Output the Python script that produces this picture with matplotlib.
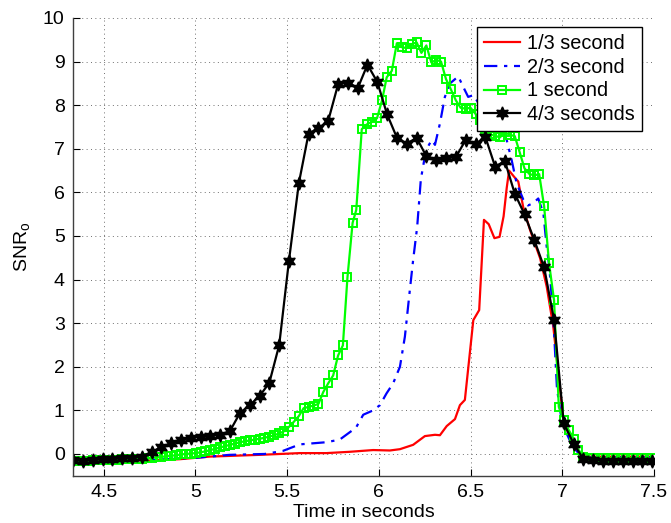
import matplotlib
matplotlib.use("Agg")
import matplotlib.pyplot as plt

plt.rcParams["font.family"] = ["Liberation Sans", "DejaVu Sans"]
plt.rcParams["mathtext.fontset"] = "custom"
plt.rcParams["mathtext.rm"] = "Liberation Sans"
plt.rcParams["mathtext.it"] = "Liberation Sans:italic"

# 1/3 second window (plain red line)
red_t = [4.333, 4.751, 4.915, 5.078, 5.351, 5.569, 5.715, 5.842, 5.969, 6.060,
         6.115, 6.187, 6.251, 6.306, 6.333, 6.370, 6.415, 6.442, 6.469, 6.515,
         6.547, 6.573, 6.599, 6.630, 6.658, 6.680, 6.697, 6.710, 6.737, 6.760,
         6.788, 6.824, 6.879, 6.915, 6.951, 7.004, 7.053, 7.108, 7.490]
red_v = [-0.15, -0.15, -0.12, -0.06, -0.02, 0.02, 0.02, 0.05, 0.09, 0.08,
         0.11, 0.21, 0.41, 0.44, 0.43, 0.64, 0.80, 1.12, 1.24, 3.07,
         3.30, 5.37, 5.27, 4.95, 4.98, 5.45, 6.10, 6.50, 6.36, 6.25,
         5.64, 5.14, 4.49, 3.84, 2.92, 0.86, 0.20, -0.06, -0.06]

# 2/3 second window (blue dash-dot)
blue_t = [4.333, 4.751, 5.024, 5.187, 5.378, 5.477, 5.569, 5.715, 5.787, 5.842,
          5.875, 5.915, 5.969, 6.006, 6.042, 6.078, 6.115, 6.142, 6.169, 6.187,
          6.209, 6.229, 6.257, 6.288, 6.306, 6.333, 6.360, 6.388, 6.433, 6.460,
          6.487, 6.515, 6.551, 6.617, 6.678, 6.697, 6.724, 6.751, 6.788, 6.813,
          6.840, 6.869, 6.897, 6.915, 6.929, 6.950, 6.971, 6.999, 7.053, 7.108,
          7.490]
blue_v = [-0.15, -0.14, -0.08, -0.02, 0.00, 0.07, 0.22, 0.27, 0.33, 0.50,
          0.60, 0.90, 1.00, 1.12, 1.39, 1.62, 2.00, 2.69, 3.76, 4.45,
          5.21, 6.30, 6.97, 7.20, 7.09, 7.58, 8.19, 8.50, 8.66, 8.42,
          8.19, 8.23, 8.00, 7.70, 7.38, 7.20, 6.74, 6.21, 5.83, 5.70,
          5.75, 5.86, 5.52, 4.75, 4.30, 3.20, 1.50, 0.70, 0.20, -0.08,
          -0.08]

# 1 second window (green, square markers)
green_t = [4.333, 4.360, 4.387, 4.413, 4.440, 4.467, 4.494, 4.520, 4.547, 4.574,
           4.601, 4.627, 4.654, 4.681, 4.708, 4.734, 4.761, 4.788, 4.815, 4.841,
           4.868, 4.895, 4.922, 4.948, 4.975, 5.002, 5.029, 5.055, 5.082, 5.109,
           5.136, 5.162, 5.189, 5.216, 5.243, 5.269, 5.296, 5.323, 5.350, 5.376,
           5.403, 5.430, 5.457, 5.483, 5.510, 5.537, 5.564, 5.590, 5.617, 5.644,
           5.671, 5.697, 5.724, 5.751, 5.778, 5.804, 5.829, 5.857, 5.877, 5.907,
           5.935, 5.962, 5.990, 6.018, 6.043, 6.071, 6.098, 6.125, 6.152, 6.179,
           6.206, 6.232, 6.259, 6.286, 6.313, 6.339, 6.366, 6.393, 6.420, 6.446,
           6.473, 6.500, 6.527, 6.553, 6.580, 6.607, 6.634, 6.660, 6.687, 6.714,
           6.741, 6.767, 6.794, 6.821, 6.848, 6.874, 6.901, 6.928, 6.955, 6.981,
           7.008, 7.035, 7.062, 7.088, 7.115, 7.142, 7.169, 7.195, 7.222, 7.249,
           7.276, 7.302, 7.329, 7.356, 7.383, 7.409, 7.436, 7.463, 7.490]
green_v = [-0.15, -0.16, -0.15, -0.15, -0.14, -0.14, -0.14, -0.13, -0.13, -0.13,
           -0.12, -0.12, -0.12, -0.11, -0.11, -0.10, -0.09, -0.08, -0.07, -0.05,
           -0.04, -0.03, -0.01, 0.00, 0.01, 0.02, 0.04, 0.06, 0.09, 0.12,
           0.15, 0.18, 0.21, 0.24, 0.27, 0.29, 0.31, 0.33, 0.35, 0.37,
           0.40, 0.43, 0.47, 0.52, 0.62, 0.74, 0.87, 1.05, 1.08, 1.11,
           1.15, 1.42, 1.62, 1.80, 2.26, 2.49, 4.05, 5.30, 5.60, 7.45,
           7.56, 7.62, 7.70, 8.12, 8.64, 8.79, 9.42, 9.33, 9.31, 9.40,
           9.44, 9.20, 9.37, 8.98, 9.04, 9.00, 8.60, 8.36, 8.11, 7.94,
           7.92, 7.94, 7.80, 7.65, 7.45, 7.33, 7.30, 7.26, 7.38, 7.32,
           7.29, 6.93, 6.55, 6.42, 6.39, 6.42, 5.68, 4.37, 3.53, 1.08,
           0.78, 0.55, 0.35, 0.10, -0.06, -0.10, -0.10, -0.10, -0.10, -0.10,
           -0.10, -0.10, -0.10, -0.10, -0.10, -0.10, -0.10, -0.10, -0.10]

# 4/3 seconds window (black, hexagram markers)
black_t = [4.333, 4.387, 4.440, 4.494, 4.547, 4.601, 4.654, 4.708, 4.761, 4.815,
           4.868, 4.922, 4.975, 5.029, 5.082, 5.136, 5.189, 5.243, 5.296, 5.350,
           5.403, 5.457, 5.510, 5.564, 5.617, 5.671, 5.724, 5.778, 5.831, 5.885,
           5.938, 5.992, 6.045, 6.099, 6.152, 6.206, 6.259, 6.313, 6.366, 6.420,
           6.473, 6.527, 6.580, 6.634, 6.687, 6.741, 6.794, 6.848, 6.901, 6.955,
           7.008, 7.062, 7.115, 7.169, 7.222, 7.276, 7.329, 7.383, 7.436, 7.490]
black_v = [-0.14, -0.16, -0.14, -0.12, -0.115, -0.10, -0.085, -0.06, 0.05, 0.15,
           0.245, 0.32, 0.37, 0.395, 0.42, 0.435, 0.53, 0.94, 1.12, 1.33,
           1.63, 2.50, 4.43, 6.21, 7.35, 7.47, 7.64, 8.48, 8.52, 8.39,
           8.93, 8.53, 7.79, 7.25, 7.12, 7.25, 6.83, 6.74, 6.78, 6.81,
           7.20, 7.10, 7.28, 6.59, 6.72, 5.97, 5.50, 4.90, 4.28, 3.08,
           0.70, 0.24, -0.12, -0.14, -0.15, -0.15, -0.15, -0.15, -0.15, -0.16]

x_ticks = [4.5, 5, 5.5, 6, 6.5, 7, 7.5]
x_labels = ["4.5", "5", "5.5", "6", "6.5", "7", "7.5"]
y_ticks = list(range(0, 11))

fig = plt.figure(figsize=(6.71, 5.23), dpi=100)
ax = fig.add_axes([0.1088, 0.0903, 0.8659, 0.8753])

ax.plot(red_t, red_v, color="#ff0000", lw=1.6, label="1/3 second")
ax.plot(blue_t, blue_v, color="#0000ff", lw=1.6, ls=(0, (6, 3, 1.5, 3)),
        label="2/3 second")
ax.plot(green_t, green_v, color="#00ff00", lw=1.6, marker="s", ms=5.5,
        mfc="none", mec="#00ff00", mew=1.4, label="1 second")
ax.plot(black_t, black_v, color="black", lw=1.6, marker=(6, 1, 0), ms=9.5,
        mfc="black", mec="black", label="4/3 seconds")

ax.set_xlim(4.333, 7.5)
ax.set_ylim(-0.5, 10)
ax.set_xticks(x_ticks)
ax.set_xticklabels(x_labels)
ax.set_yticks(y_ticks)
ax.tick_params(direction="in", length=5, width=0.8, labelsize=14, pad=6)
for side in ("top", "right"):
    ax.spines[side].set_visible(False)
for side in ("left", "bottom"):
    ax.spines[side].set_color("#404040")
    ax.spines[side].set_linewidth(1.0)
ax.grid(True, color="#707070", ls=(0, (1, 3.5)), lw=0.7)

ax.set_xlabel("Time in seconds", fontsize=14, labelpad=2)
ax.set_ylabel(r"SNR$_\mathrm{o}$", fontsize=14, labelpad=8)

leg = ax.legend(loc="upper right", bbox_to_anchor=(0.9793, 0.9803),
                borderaxespad=0, fontsize=14.3, handlelength=1.85,
                handletextpad=0.35, labelspacing=0.24, borderpad=0.35,
                fancybox=False, framealpha=1, edgecolor="black")
leg.get_frame().set_linewidth(1.0)

fig.savefig("out.png", dpi=100)
